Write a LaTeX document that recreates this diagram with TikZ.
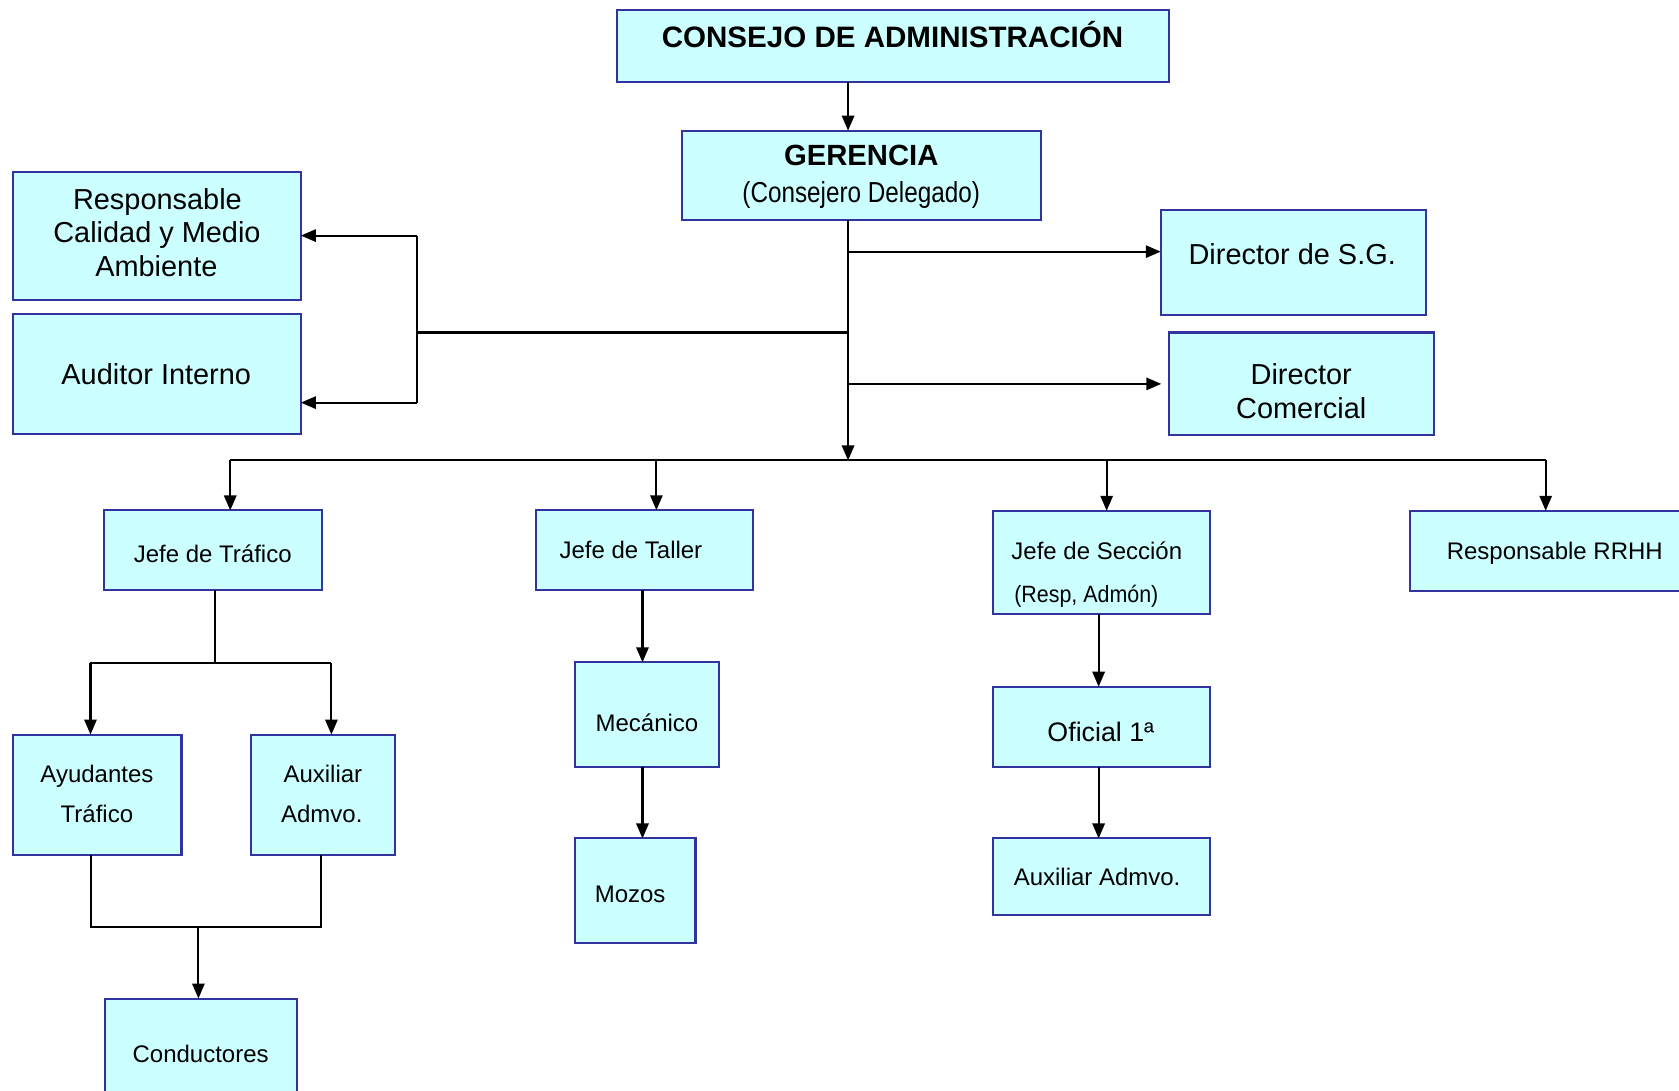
\documentclass[tikz,border=0pt]{standalone}
\usepackage{fontspec}
\setmainfont{Liberation Sans}
\newfontfamily\narrowA{Liberation Sans}[FakeStretch=0.84]
\newfontfamily\narrowB{Liberation Sans}[FakeStretch=0.91]
\usetikzlibrary{arrows.meta}
\definecolor{boxfill}{RGB}{204,255,255}
\definecolor{boxline}{RGB}{51,51,160}
\begin{document}
\begin{tikzpicture}[x=1pt,y=-1pt,
  box/.style={draw=boxline, fill=boxfill, line width=1.9pt, inner sep=0pt, outer sep=0pt, anchor=north west, rectangle},
  t/.style={anchor=base, inner sep=0pt, outer sep=0pt, text=black},
  big/.style={font=\fontsize{27}{31}\selectfont},
  small/.style={font=\fontsize{22.4}{26}\selectfont},
  conn/.style={line width=1.9pt, draw=black},
  arr/.style={conn, -{Triangle[length=14pt,width=11.5pt]}}]
\useasboundingbox (0,0) rectangle (1568,1018);

% boxes
\node[box, minimum width=516pt, minimum height=67pt] (consejo) at (576,9.5) {};
\node[box, minimum width=335.5pt, minimum height=83pt] (gerencia) at (637,122) {};
\node[box, minimum width=269pt, minimum height=119.5pt] (resp) at (12,161) {};
\node[box, minimum width=269pt, minimum height=112pt] (auditor) at (12,293.5) {};
\node[box, minimum width=247.5pt, minimum height=98pt] (dirsg) at (1084,196) {};
\node[box, minimum width=247pt, minimum height=95.5pt] (dircom) at (1092,310.5) {};
\node[box, minimum width=203pt, minimum height=74.6pt] (jtraf) at (97.5,476.7) {};
\node[box, minimum width=202.4pt, minimum height=74.8pt] (jtaller) at (501,476.5) {};
\node[box, minimum width=202.5pt, minimum height=96.5pt] (jsecc) at (927.5,477) {};
\node[box, minimum width=270pt, minimum height=75pt] (rrhh) at (1316.5,477) {};
\node[box, minimum width=157.5pt, minimum height=112.5pt] (ayud) at (12,686) {};
\node[box, minimum width=135.2pt, minimum height=112.5pt] (auxil) at (234,686) {};
\node[box, minimum width=134.8pt, minimum height=97.5pt] (meca) at (537,618.5) {};
\node[box, minimum width=112.5pt, minimum height=98pt] (mozos) at (537,783) {};
\node[box, minimum width=202.7pt, minimum height=75pt] (ofic) at (927,641.3) {};
\node[box, minimum width=202.7pt, minimum height=71.5pt] (auxr) at (927,783) {};
\node[box, minimum width=179.7pt, minimum height=100pt] (cond) at (97.8,932.5) {};

% texts
\node[t, font=\fontsize{27.6}{31}\selectfont\bfseries] (tConsejo) at (833.5,44.5) {CONSEJO DE ADMINISTRACIÓN};
\node[t, font=\fontsize{27.3}{31}\selectfont\bfseries] (tGerencia) at (804.3,154.4) {GERENCIA};
\node[t, font=\fontsize{27}{31}\selectfont\narrowA] (tDelegado) at (804.3,189.5) {(Consejero Delegado)};
\node[t, big] (tResp1) at (147,195.5) {Responsable};
\node[t, big] (tResp2) at (146.6,226.6) {Calidad y Medio};
\node[t, big] (tResp3) at (146,258.4) {Ambiente};
\node[t, big] (tAuditor) at (145.9,358.9) {Auditor Interno};
\node[t, big] (tDirSG) at (1206.8,246.9) {Director de S.G.};
\node[t, big] (tDirCom1) at (1215.2,359.5) {Director};
\node[t, big] (tDirCom2) at (1215.2,390.7) {Comercial};
\node[t, small] (tJTraf) at (198.7,525.5) {Jefe de Tráfico};
\node[t, small] (tJTaller) at (589.2,522) {Jefe de Taller};
\node[t, small] (tJSecc) at (1024.3,522.7) {Jefe de Sección};
\node[t, font=\fontsize{22}{26}\selectfont\narrowB] (tJSecc2) at (1014.5,562.5) {(Resp, Admón)};
\node[t, small] (tRRHH) at (1452,522.5) {Responsable RRHH};
\node[t, small] (tAyud1) at (90.5,731) {Ayudantes};
\node[t, small] (tAyud2) at (90.5,768) {Tráfico};
\node[t, small] (tAux1) at (301.5,731) {Auxiliar};
\node[t, small] (tAux2) at (300.5,768) {Admvo.};
\node[t, small] (tMeca) at (604.2,682.7) {Mecánico};
\node[t, small] (tMozos) at (588.5,843) {Mozos};
\node[t, font=\fontsize{25}{29}\selectfont] (tOfic) at (1028,692) {Oficial 1ª};
\node[t, small] (tAuxR) at (1024.6,827) {Auxiliar Admvo.};
\node[t, small] (tCond) at (187.4,992.5) {Conductores};

% connectors (top)
\coordinate (cg) at (792,0);
\draw[arr] (consejo.south -| cg) -- (gerencia.north -| cg);
\coordinate (bus) at (792,430);
\draw[conn] (gerencia.south -| cg) -- (792,300);
\draw[arr] (792,300) -- (bus);
\coordinate (ySG) at (792,235);
\draw[arr] (ySG) -- (dirsg.west |- ySG);
\coordinate (yDC) at (792,358.5);
\draw[arr, shorten >=7.5pt] (yDC) -- (dircom.west |- yDC);
\coordinate (yL) at (792,310.5);
\coordinate (vL) at (389,310.5);
\draw[conn] (yL) -- (vL);
\coordinate (vR) at (389,220);
\coordinate (vA) at (389,376);
\draw[conn] (vR) -- (vA);
\draw[arr] (vR) -- (resp.east |- vR);
\draw[arr] (vA) -- (auditor.east |- vA);

% bus
\coordinate (b1) at (215,430);
\coordinate (b2) at (613,430);
\coordinate (b3) at (1033.5,430);
\coordinate (b4) at (1443.5,430);
\draw[conn] (b1) -- (b4);
\draw[arr] (b1) -- (jtraf.north -| b1);
\draw[arr] (b2) -- (jtaller.north -| b2);
\draw[arr] (b3) -- (jsecc.north -| b3);
\draw[arr] (b4) -- (rrhh.north -| b4);

% Jefe de Trafico branch
\coordinate (t0) at (201,619);
\coordinate (tl) at (84.5,619);
\coordinate (tr) at (309.5,619);
\draw[conn] (jtraf.south -| t0) -- (t0);
\draw[conn] (tl) -- (tr);
\draw[arr] (tl) -- (ayud.north -| tl);
\draw[arr] (tr) -- (auxil.north -| tr);
\coordinate (ml) at (85,865.4);
\coordinate (mr) at (300,865.4);
\coordinate (mc) at (185.3,865.4);
\draw[conn, line join=miter] (ayud.south -| ml) -- (ml) -- (mr) -- (auxil.south -| mr);
\draw[arr] (mc) -- (cond.north -| mc);

% Taller branch
\coordinate (xT) at (600,0);
\draw[arr] (jtaller.south -| xT) -- (meca.north -| xT);
\draw[arr] (meca.south -| xT) -- (mozos.north -| xT);

% Seccion branch
\coordinate (xS) at (1026,0);
\draw[arr] (jsecc.south -| xS) -- (ofic.north -| xS);
\draw[arr] (ofic.south -| xS) -- (auxr.north -| xS);
\end{tikzpicture}
\end{document}
